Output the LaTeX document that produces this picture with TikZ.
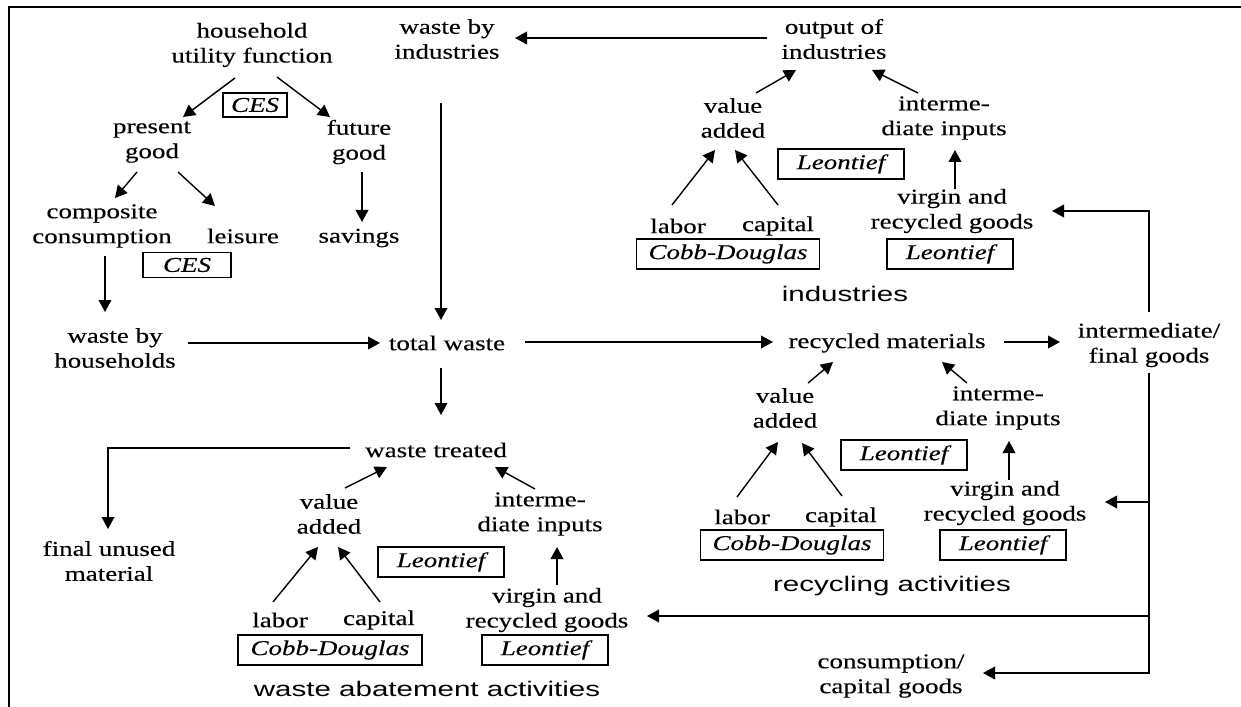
\documentclass[tikz,border=0pt]{standalone}
\usepackage{fontspec}
\newfontfamily\serifdiag{Liberation Serif}[FakeStretch=1.28, FakeBold=0.3]
\newfontfamily\sansdiag{Liberation Sans}[FakeStretch=1.4]
\usepackage{tikz}
\usetikzlibrary{calc, arrows.meta}
\tikzset{
	line width = 1.2pt,
	txt/.style={
		align=center,
		inner sep=0pt,
		font=\serifdiag\fontsize{18}{21.3}\selectfont
	},
	box/.style={
		draw,
		line width=.9pt,
		inner sep=0pt,
		minimum height=.9cm,
		font=\serifdiag\itshape\fontsize{18}{21.3}\selectfont
	},
	leo/.style={box, minimum width=3.78cm},
	cd/.style={box, minimum width=5.49cm},
	sector/.style={
		inner sep=0pt,
		font=\sansdiag\fontsize{18}{21.3}\selectfont
	},
	edge/.style={
		-{Triangle[length=.36cm, width=.38cm]},
		line width=1.2pt
	},
	frame/.style={line width=1.8pt}
}

\begin{document}
\begin{tikzpicture}[x=.03cm, y=-.03cm]
\useasboundingbox (0,0) rectangle (1241,707);
\draw[frame] (9,707) -- (9,7) -- (1241,7);

% ---
% households
% ---
\node[txt] at (252,45) (util) {household\\utility function};
\node[box, minimum width=1.92cm, minimum height=.72cm] at (255,105) (ces-1) {CES};
\node[txt] at (152,142) (present) {present\\good};
\node[txt] at (359,142) (future) {future\\good};
\node[txt] at (102,226) (comp) {composite\\consumption};
\node[txt] at (243,236) (leisure) {leisure};
\node[txt] at (359,238) (savings) {savings};
\node[box, minimum width=2.64cm, minimum height=.75cm] at (187,265) (ces-2) {CES};
\node[txt] at (115,348) (wh) {waste by\\households};

\draw[edge] ($(util)+(-17,33)$) to ($(present)+(31,-25)$);
\draw[edge] ($(util)+(25,32)$) to ($(future)+(-29,-25)$);
\draw[edge] ($(present)+(-15,30)$) to ($(comp)+(13,-28)$);
\draw[edge] ($(present)+(26,30)$) to ($(leisure)+(-28,-30)$);
\draw[edge] ($(future)+(3,30)$) to ($(savings)+(3,-16)$);
\draw[edge] ($(comp)+(3,30)$) to ($(wh)+(-10,-36)$);

% ---
% waste flows
% ---
\node[txt] at (447,39) (wi) {waste by\\industries};
\node[txt] at (834,39) (output) {output of\\industries};
\node[txt] at (447,343) (total) {total waste};
\node[txt] at (887,343) (recmat) {recycled materials};
\node[txt] at (1149,345) (goods) {intermediate/\\final goods};
\node[txt] at (436,450) (treated) {waste treated};
\node[txt] at (109,561) (unused) {final unused\\material};
\node[txt] at (891,676) (cons) {consumption/\\capital goods};

\draw[edge] ($(output)+(-67,-1)$) to ($(wi)+(68,-1)$);
\draw[edge] ($(wi)+(-6,64)$) to ($(total)+(-6,-23)$);
\draw[edge] ($(wh)+(73,-5)$) to ($(total)+(-67,0)$);
\draw[edge] ($(total)+(78,-1)$) to ($(recmat)+(-114,-1)$);
\draw[edge] ($(recmat)+(117,-1)$) to ($(goods)+(-89,-3)$);
\draw[edge] ($(total)+(-6,25)$) to ($(treated)+(5,-35)$);
\draw[edge] ($(treated)+(-86,-2)$) -| ($(unused)+(-1,-32)$);

% ---
% industries
% ---
\node[txt] at (733,118) (ind-va) {value\\added};
\node[txt] at (944,118) (ind-ii) {interme-\\diate inputs};
\node[leo] at (841,164) (ind-leo) {Leontief};
\node[txt] at (952,211) (ind-vr) {virgin and\\recycled goods};
\node[txt] at (678,226) (ind-lab) {labor};
\node[txt] at (778,226) (ind-cap) {capital};
\node[cd] at (728,254) (ind-cd) {Cobb-Douglas};
\node[leo] at (950,254) (ind-leo2) {Leontief};
\node[sector] at (845,294) (ind-name) {industries};

\draw[edge] ($(ind-va)+(23,-25)$) to ($(output)+(-38,31)$);
\draw[edge] ($(ind-ii)+(-26,-25)$) to ($(output)+(38,31)$);
\draw[edge] ($(ind-lab)+(-6,-21)$) to ($(ind-va)+(-18,32)$);
\draw[edge] ($(ind-cap)+(0,-21)$) to ($(ind-va)+(2,32)$);
\draw[edge] ($(ind-vr)+(3,-22)$) to ($(ind-ii)+(11,32)$);
\draw[edge] ($(goods)+(0,-33)$) |- ($(ind-vr)+(100,0)$);

% ---
% recycling activities
% ---
\node[txt] at (785,408) (rec-va) {value\\added};
\node[txt] at (998,408) (rec-ii) {interme-\\diate inputs};
\node[leo] at (904,455) (rec-leo) {Leontief};
\node[txt] at (1005,503) (rec-vr) {virgin and\\recycled goods};
\node[txt] at (742,517) (rec-lab) {labor};
\node[txt] at (841,517) (rec-cap) {capital};
\node[cd] at (792,545) (rec-cd) {Cobb-Douglas};
\node[leo] at (1003,545) (rec-leo2) {Leontief};
\node[sector] at (892,586) (rec-name) {recycling activities};

\draw[edge] ($(rec-va)+(23,-25)$) to ($(recmat)+(-54,19)$);
\draw[edge] ($(rec-ii)+(-31,-25)$) to ($(recmat)+(55,19)$);
\draw[edge] ($(rec-lab)+(-5,-20)$) to ($(rec-va)+(-7,34)$);
\draw[edge] ($(rec-cap)+(1,-21)$) to ($(rec-va)+(17,35)$);
\draw[edge] ($(rec-vr)+(4,-23)$) to ($(rec-ii)+(11,33)$);

% ---
% waste abatement activities
% ---
\node[txt] at (329,514) (ab-va) {value\\added};
\node[txt] at (540,514) (ab-ii) {interme-\\diate inputs};
\node[leo] at (441,562) (ab-leo) {Leontief};
\node[txt] at (547,610) (ab-vr) {virgin and\\recycled goods};
\node[txt] at (280,620) (ab-lab) {labor};
\node[txt] at (379,620) (ab-cap) {capital};
\node[cd, minimum width=5.52cm] at (330,650) (ab-cd) {Cobb-Douglas};
\node[leo] at (545,650) (ab-leo2) {Leontief};
\node[sector] at (427,689) (ab-name) {waste abatement activities};

\draw[edge] ($(ab-va)+(16,-26)$) to ($(treated)+(-49,17)$);
\draw[edge] ($(ab-ii)+(-5,-25)$) to ($(treated)+(59,17)$);
\draw[edge] ($(ab-lab)+(-7,-18)$) to ($(ab-va)+(-11,33)$);
\draw[edge] ($(ab-cap)+(1,-18)$) to ($(ab-va)+(9,33)$);
\draw[edge] ($(ab-vr)+(10,-25)$) to ($(ab-ii)+(17,33)$);

% goods going back
\draw[edge] ($(goods)+(0,28)$) |- ($(rec-vr)+(100,-1)$);
\draw[edge] ($(goods)+(0,28)$) |- ($(ab-vr)+(100,6)$);
\draw[edge] ($(goods)+(0,28)$) |- ($(cons)+(92,-3)$);
\end{tikzpicture}
\end{document}
